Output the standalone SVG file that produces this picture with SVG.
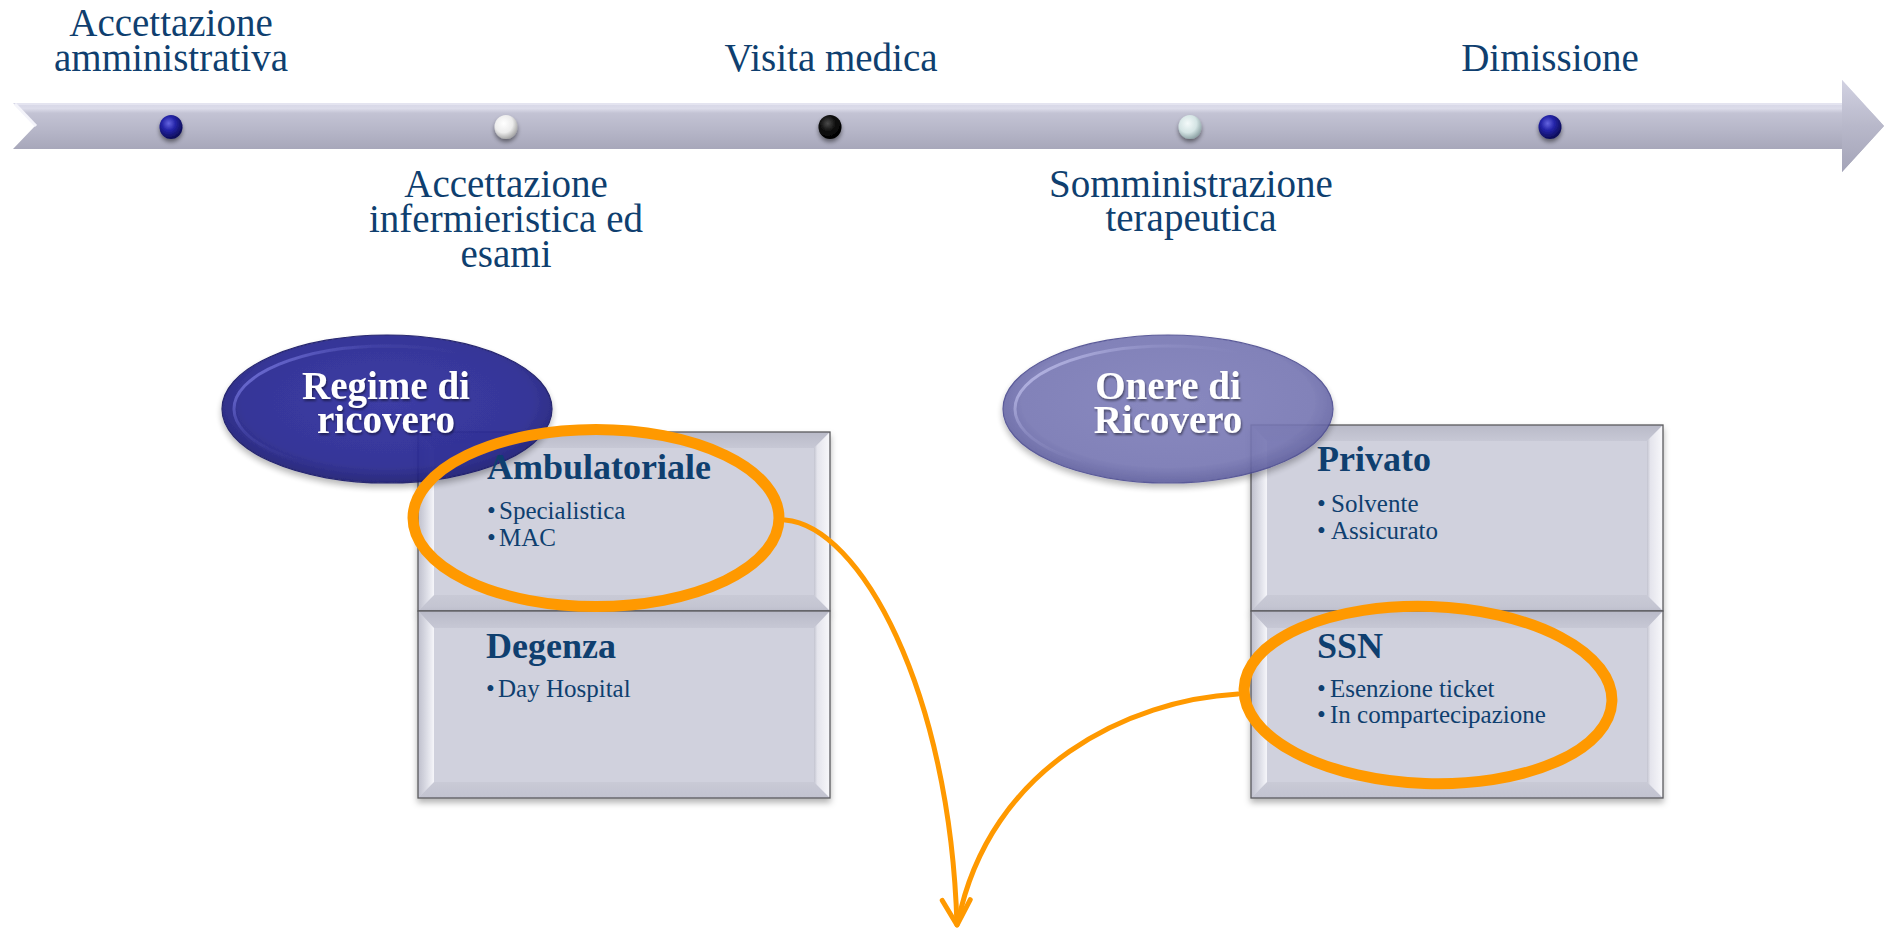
<svg xmlns="http://www.w3.org/2000/svg" width="1889" height="930" viewBox="0 0 1889 930">
<style>
.lbl{font-family:"Liberation Serif","Times New Roman",serif;font-size:39px;fill:#0f3f6f;text-anchor:middle}
.ovl{font-family:"Liberation Serif","Times New Roman",serif;font-size:39px;font-weight:bold;fill:#ffffff;text-anchor:middle}
.ttl{font-family:"Liberation Serif","Times New Roman",serif;font-size:36px;font-weight:bold;fill:#0f3f6f}
.itm{font-family:"Liberation Serif","Times New Roman",serif;font-size:25px;fill:#0f3f6f}
.face{fill:#d0d1dd}
.edge{fill:none;stroke:#5a5a5e;stroke-width:1.3}
.ring{fill:none;stroke:#ff9900;stroke-width:11}
.conn{fill:none;stroke:#ff9900;stroke-width:5;stroke-linecap:round}
</style>
<defs>
<linearGradient id="gArrow" gradientUnits="userSpaceOnUse" x1="0" y1="103" x2="0" y2="149">
<stop offset="0" stop-color="#d6d6e6"/><stop offset="0.12" stop-color="#dcdcea"/><stop offset="0.22" stop-color="#c3c3d4"/><stop offset="0.6" stop-color="#b6b6c8"/><stop offset="1" stop-color="#a7a7ba"/>
</linearGradient>
<linearGradient id="gHead" gradientUnits="userSpaceOnUse" x1="0" y1="80" x2="0" y2="172">
<stop offset="0" stop-color="#d2d2e2"/><stop offset="0.5" stop-color="#b8b8ca"/><stop offset="1" stop-color="#a4a4b8"/>
</linearGradient>
<linearGradient id="gTop" x1="0" y1="0" x2="0" y2="1"><stop offset="0" stop-color="#b9bac8"/><stop offset="1" stop-color="#c7c8d5"/></linearGradient>
<linearGradient id="gBot" x1="0" y1="0" x2="0" y2="1"><stop offset="0" stop-color="#c9cad6"/><stop offset="1" stop-color="#c2c3d0"/></linearGradient>
<linearGradient id="gLeft" x1="0" y1="0" x2="1" y2="0"><stop offset="0" stop-color="#bebfcc"/><stop offset="0.55" stop-color="#dcdde6"/><stop offset="1" stop-color="#f6f6fa"/></linearGradient>
<linearGradient id="gRight" x1="0" y1="0" x2="1" y2="0"><stop offset="0" stop-color="#c2c3cf"/><stop offset="0.2" stop-color="#e4e4ec"/><stop offset="1" stop-color="#f8f8fb"/></linearGradient>
<radialGradient id="gNavy" cx="0.5" cy="0.45" r="0.55"><stop offset="0" stop-color="#3030a0"/><stop offset="0.8" stop-color="#2b2b92"/><stop offset="1" stop-color="#1e1e74"/></radialGradient>
<radialGradient id="gLav" cx="0.5" cy="0.45" r="0.55"><stop offset="0" stop-color="#7c7cb8"/><stop offset="0.8" stop-color="#7575b2"/><stop offset="1" stop-color="#5c5c9c"/></radialGradient>
<linearGradient id="gRimN" x1="0" y1="0.2" x2="0.7" y2="0.6"><stop offset="0" stop-color="#7c7ce8" stop-opacity="0.9"/><stop offset="0.35" stop-color="#5050c0" stop-opacity="0.3"/><stop offset="0.7" stop-color="#3a3aa8" stop-opacity="0"/></linearGradient>
<linearGradient id="gRimL" x1="0" y1="0.2" x2="0.7" y2="0.6"><stop offset="0" stop-color="#c4c4f2" stop-opacity="0.9"/><stop offset="0.35" stop-color="#a0a0d8" stop-opacity="0.3"/><stop offset="0.7" stop-color="#9090c8" stop-opacity="0"/></linearGradient>
<radialGradient id="dBlue" cx="0.4" cy="0.35" r="0.65"><stop offset="0" stop-color="#6464e0"/><stop offset="0.45" stop-color="#2424a8"/><stop offset="1" stop-color="#0c0c56"/></radialGradient>
<radialGradient id="dWhite" cx="0.4" cy="0.35" r="0.65"><stop offset="0" stop-color="#ffffff"/><stop offset="0.6" stop-color="#ececec"/><stop offset="1" stop-color="#a8a8a8"/></radialGradient>
<radialGradient id="dBlack" cx="0.4" cy="0.35" r="0.65"><stop offset="0" stop-color="#4a4a4a"/><stop offset="0.5" stop-color="#111111"/><stop offset="1" stop-color="#000000"/></radialGradient>
<radialGradient id="dCyan" cx="0.4" cy="0.35" r="0.65"><stop offset="0" stop-color="#f4fafa"/><stop offset="0.6" stop-color="#d4e4e4"/><stop offset="1" stop-color="#93a8aa"/></radialGradient>
<filter id="sh" x="-10%" y="-10%" width="125%" height="130%"><feDropShadow dx="0" dy="4" stdDeviation="3" flood-color="#000" flood-opacity="0.3"/></filter>
<filter id="shDot" x="-50%" y="-50%" width="200%" height="220%"><feDropShadow dx="0" dy="3" stdDeviation="2" flood-color="#000" flood-opacity="0.45"/></filter>
<filter id="shTxt" x="-10%" y="-20%" width="120%" height="150%"><feDropShadow dx="1" dy="2" stdDeviation="1.2" flood-color="#000" flood-opacity="0.45"/></filter>
<marker id="arr" markerUnits="userSpaceOnUse" markerWidth="44" markerHeight="44" viewBox="-32 -22 44 44" refX="0" refY="0" orient="auto">
<path d="M-25,-14 L0,0 L-25,14" fill="none" stroke="#ff9900" stroke-width="5" stroke-linecap="round" stroke-linejoin="round"/>
</marker>
</defs>
<rect width="1889" height="930" fill="#ffffff"/>

<g id="timeline">
<polygon points="13,103 1842,103 1842,80 1884,126 1842,172 1842,149 13,149 35,126" fill="url(#gArrow)"/>
<polygon points="1842,80 1884,126 1842,172 1842,149 1842,103" fill="url(#gHead)"/>
<polyline points="15,104 1842,104" stroke="#e4e4f0" stroke-width="2" fill="none"/>
<polyline points="15,104 36,126" stroke="#f4f4fa" stroke-width="3" fill="none"/>
<g filter="url(#shDot)">
<ellipse cx="171" cy="127" rx="11.5" ry="12" fill="url(#dBlue)"/>
<ellipse cx="506" cy="127" rx="11.5" ry="12" fill="url(#dWhite)"/>
<ellipse cx="830" cy="127" rx="11.5" ry="12" fill="url(#dBlack)"/>
<ellipse cx="1190" cy="127" rx="11.5" ry="12" fill="url(#dCyan)"/>
<ellipse cx="1550" cy="127" rx="11.5" ry="12" fill="url(#dBlue)"/>
</g>
</g>

<g id="label-accettazione-amministrativa"><text class="lbl"><tspan x="171" y="36">Accettazione</tspan><tspan x="171" y="71">amministrativa</tspan></text></g>
<g id="label-accettazione-infermieristica"><text class="lbl"><tspan x="506" y="197">Accettazione</tspan><tspan x="506" y="232">infermieristica ed</tspan><tspan x="506" y="267">esami</tspan></text></g>
<g id="label-visita-medica"><text class="lbl" x="831" y="71">Visita medica</text></g>
<g id="label-somministrazione"><text class="lbl"><tspan x="1191" y="197">Somministrazione</tspan><tspan x="1191" y="231">terapeutica</tspan></text></g>
<g id="label-dimissione"><text class="lbl" x="1550" y="71">Dimissione</text></g>

<g id="regime-di-ricovero">
<g id="box-ambulatoriale" filter="url(#sh)">
<rect class="face" x="418" y="432" width="412" height="179"/>
<polygon points="418,432 830,432 814,448 434,448" fill="url(#gTop)"/>
<polygon points="418,611 830,611 814,595 434,595" fill="url(#gBot)"/>
<polygon points="418,432 434,448 434,595 418,611" fill="url(#gLeft)"/>
<polygon points="830,432 814,448 814,595 830,611" fill="url(#gRight)"/>
<rect class="edge" x="418" y="432" width="412" height="179"/>
</g>
<g id="box-degenza" filter="url(#sh)">
<rect class="face" x="418" y="611" width="412" height="187"/>
<polygon points="418,611 830,611 814,628 434,628" fill="url(#gTop)"/>
<polygon points="418,798 830,798 814,782 434,782" fill="url(#gBot)"/>
<polygon points="418,611 434,628 434,782 418,798" fill="url(#gLeft)"/>
<polygon points="830,611 814,628 814,782 830,798" fill="url(#gRight)"/>
<rect class="edge" x="418" y="611" width="412" height="187"/>
</g>
<g id="oval-regime" filter="url(#sh)" opacity="0.94">
<ellipse cx="387" cy="409" rx="165" ry="74" fill="url(#gNavy)" stroke="#1a1a66" stroke-width="1.2"/>
<ellipse cx="387" cy="409" rx="153" ry="63" fill="none" stroke="url(#gRimN)" stroke-width="3"/>
</g>
<g filter="url(#shTxt)"><text class="ovl"><tspan x="386" y="399">Regime di</tspan><tspan x="386" y="433">ricovero</tspan></text></g>
<text class="ttl" x="487" y="479">Ambulatoriale</text>
<text class="itm" y="519"><tspan x="487">•</tspan><tspan x="499">Specialistica</tspan></text>
<text class="itm" y="546"><tspan x="487">•</tspan><tspan x="499">MAC</tspan></text>
<text class="ttl" x="486" y="658">Degenza</text>
<text class="itm" y="697"><tspan x="486">•</tspan><tspan x="498">Day Hospital</tspan></text>
</g>

<g id="onere-di-ricovero">
<g id="box-privato" filter="url(#sh)">
<rect class="face" x="1251" y="425" width="412" height="186"/>
<polygon points="1251,425 1663,425 1647,441 1267,441" fill="url(#gTop)"/>
<polygon points="1251,611 1663,611 1647,595 1267,595" fill="url(#gBot)"/>
<polygon points="1251,425 1267,441 1267,595 1251,611" fill="url(#gLeft)"/>
<polygon points="1663,425 1647,441 1647,595 1663,611" fill="url(#gRight)"/>
<rect class="edge" x="1251" y="425" width="412" height="186"/>
</g>
<g id="box-ssn" filter="url(#sh)">
<rect class="face" x="1251" y="611" width="412" height="187"/>
<polygon points="1251,611 1663,611 1647,628 1267,628" fill="url(#gTop)"/>
<polygon points="1251,798 1663,798 1647,782 1267,782" fill="url(#gBot)"/>
<polygon points="1251,611 1267,628 1267,782 1251,798" fill="url(#gLeft)"/>
<polygon points="1663,611 1647,628 1647,782 1663,798" fill="url(#gRight)"/>
<rect class="edge" x="1251" y="611" width="412" height="187"/>
</g>
<g id="oval-onere" filter="url(#sh)" opacity="0.9">
<ellipse cx="1168" cy="409" rx="165" ry="74" fill="url(#gLav)" stroke="#4a4a8e" stroke-width="1.2"/>
<ellipse cx="1168" cy="409" rx="153" ry="63" fill="none" stroke="url(#gRimL)" stroke-width="3"/>
</g>
<g filter="url(#shTxt)"><text class="ovl"><tspan x="1168" y="399">Onere di</tspan><tspan x="1168" y="433">Ricovero</tspan></text></g>
<text class="ttl" x="1317" y="471">Privato</text>
<text class="itm" y="512"><tspan x="1317">•</tspan><tspan x="1331">Solvente</tspan></text>
<text class="itm" y="539"><tspan x="1317">•</tspan><tspan x="1331">Assicurato</tspan></text>
<text class="ttl" x="1317" y="658">SSN</text>
<text class="itm" y="697"><tspan x="1317">•</tspan><tspan x="1330">Esenzione ticket</tspan></text>
<text class="itm" y="723"><tspan x="1317">•</tspan><tspan x="1330">In compartecipazione</tspan></text>
</g>

<g id="highlights">
<ellipse class="ring" cx="596" cy="518" rx="183" ry="88.5"/>
<ellipse class="ring" cx="1428" cy="695" rx="184" ry="88.5" transform="rotate(2 1428 695)"/>
</g>

<g id="connectors">
<path class="conn" d="M785,520 C860,526 950,690 957,925" marker-end="url(#arr)"/>
<path class="conn" d="M1238,694 C1130,700 990,765 958,922"/>
</g>
</svg>
